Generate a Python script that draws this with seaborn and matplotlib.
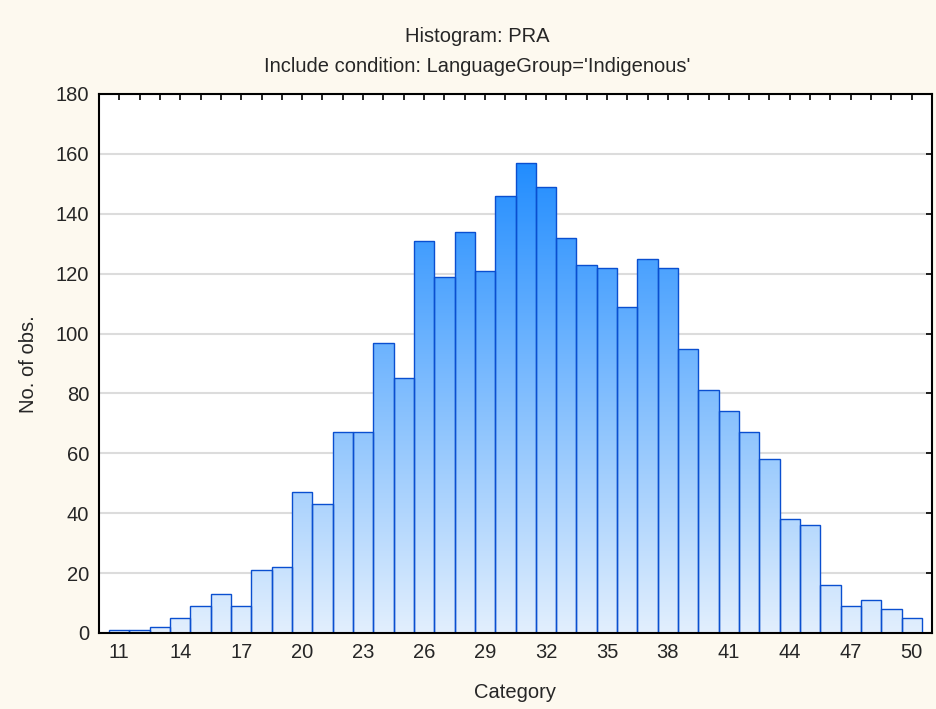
import numpy as np
import pandas as pd
import seaborn as sns
import matplotlib.pyplot as plt
from matplotlib.colors import LinearSegmentedColormap
from matplotlib.ticker import MultipleLocator

# Данные гистограммы: категория и число наблюдений
categories = list(range(11, 51))
counts = [1, 1, 2, 5, 9, 13, 9, 21, 22, 47,
          43, 67, 67, 97, 85, 131, 119, 134, 121, 146,
          157, 149, 132, 123, 122, 109, 125, 122, 95, 81,
          74, 67, 58, 38, 36, 16, 9, 11, 8, 5]
x_tick_labels = list(range(11, 51, 3))

title_line1 = "Histogram: PRA"
title_line2 = "Include condition: LanguageGroup='Indigenous'"

df = pd.DataFrame({'category': categories, 'count': counts})

sns.set_style('white')
plt.rcParams['font.family'] = ['Liberation Sans', 'DejaVu Sans']

bg = '#FDF9EF'
fs = 14.5
fig = plt.figure(figsize=(9.36, 7.09), dpi=100, facecolor=bg)
ax = fig.add_axes([99 / 936, 1 - 633 / 709, (932 - 99) / 936, (633 - 94) / 709])
ax.set_facecolor('white')

sns.histplot(data=df, x='category', weights='count', discrete=True, ax=ax,
             color='#3D9BFF', edgecolor='#0A4FD0', linewidth=1.0, alpha=1)

# Градиентная заливка столбцов (светлый снизу, темный сверху)
cmap = LinearSegmentedColormap.from_list('grad', ['#E2EFFD', '#1E8BFF'])
ymax = 180
grad = np.linspace(0, ymax, 400).reshape(-1, 1)
for patch in ax.patches:
    x0 = patch.get_x()
    w = patch.get_width()
    img = ax.imshow(grad, cmap=cmap, vmin=0, vmax=160, origin='lower',
                    extent=[x0, x0 + w, 0, ymax], aspect='auto', zorder=0.8,
                    interpolation='bilinear')
    img.set_clip_path(patch)
    patch.set_facecolor('none')
    patch.set_zorder(1)

ax.set_xlim(10, 51)
ax.set_ylim(0, 180)
ax.set_xticks(x_tick_labels)
ax.xaxis.set_minor_locator(MultipleLocator(1))
ax.yaxis.set_major_locator(MultipleLocator(20))

ax.set_axisbelow(True)
ax.yaxis.grid(True, color='#DCDCDC', linewidth=1.5)
ax.xaxis.grid(False)

for s in ax.spines.values():
    s.set_visible(True)
    s.set_color('black')
    s.set_linewidth(1.5)

ax.tick_params(which='both', direction='in', top=True, right=True,
               length=4, width=1.2, color='black')
ax.tick_params(axis='both', which='major', labelsize=fs)
ax.tick_params(axis='x', which='major', pad=7)
ax.tick_params(axis='y', which='major', pad=7)
ax.tick_params(axis='y', which='minor', left=False, right=False)

ax.set_xlabel('')
ax.set_ylabel('')
fig.text(515 / 936, 1 - 693 / 709, 'Category', ha='center', va='center', fontsize=fs)
fig.text(29 / 936, 1 - 364 / 709, 'No. of obs.', ha='center', va='center',
         rotation=90, fontsize=fs)
fig.text(477 / 936, 1 - 37 / 709, title_line1, ha='center', va='center', fontsize=fs)
fig.text(477 / 936, 1 - 67 / 709, title_line2, ha='center', va='center', fontsize=fs)

fig.savefig('out.png', dpi=100, facecolor=bg)
